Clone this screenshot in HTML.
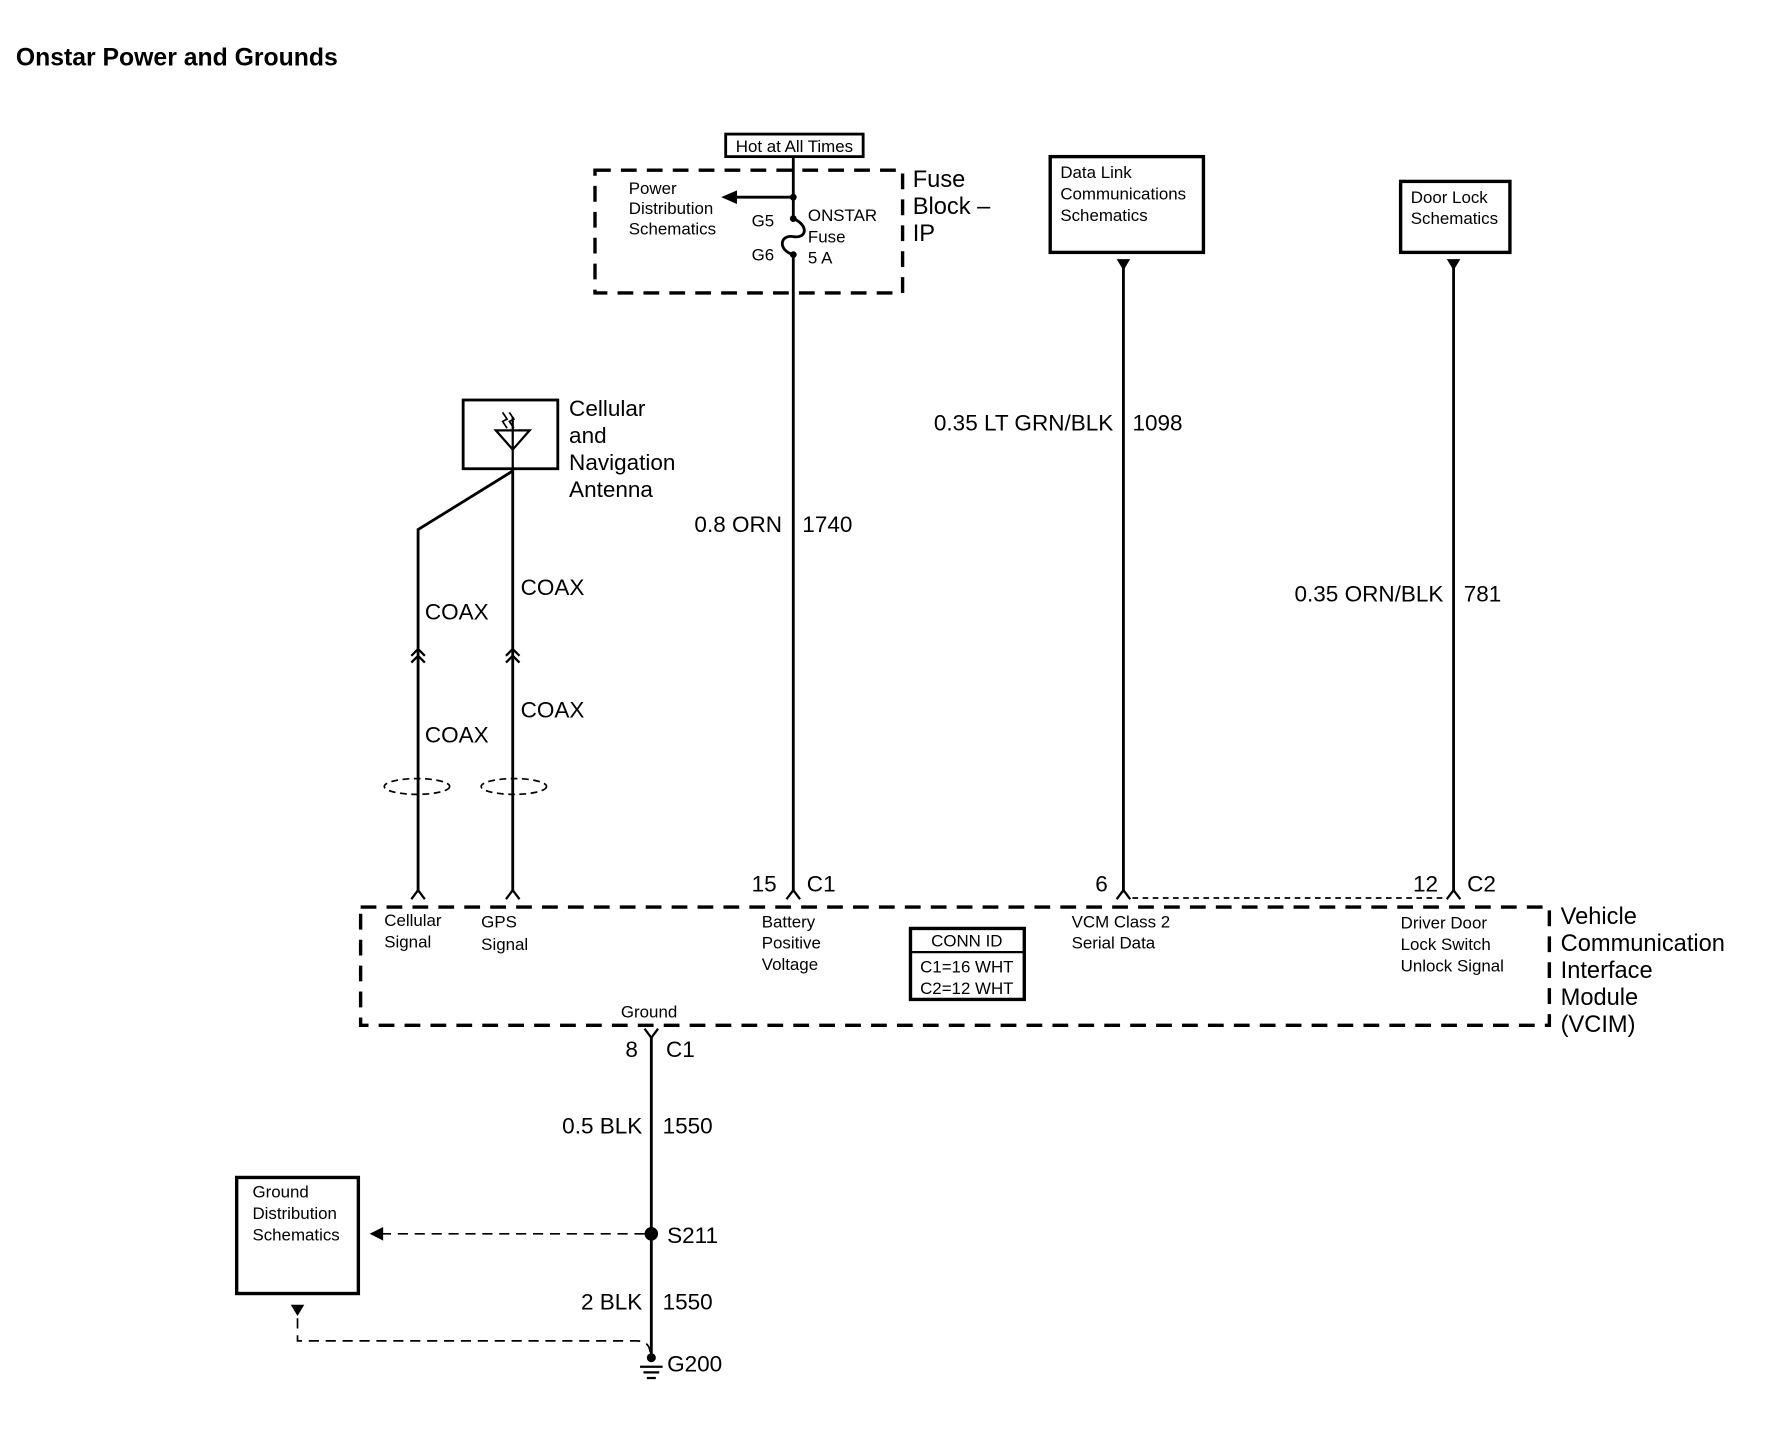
<!DOCTYPE html>
<html><head><meta charset="utf-8"><style>html,body{margin:0;padding:0;background:#fff}svg{display:block}text{font-family:"Liberation Sans",sans-serif;fill:#000}</style></head><body>
<svg width="1768" height="1440" viewBox="0 0 1569 1278" xmlns="http://www.w3.org/2000/svg">
<text x="14" y="58" font-size="22" font-weight="bold">Onstar Power and Grounds</text>

<!-- Fuse block -->
<rect x="644" y="119" width="122" height="20" fill="#fff" stroke="#000" stroke-width="2.5"/>
<text x="705" y="135" font-size="15" text-anchor="middle">Hot at All Times</text>
<rect x="528" y="151" width="273" height="109" fill="none" stroke="#000" stroke-width="3" stroke-dasharray="14,9"/>
<line x1="704" y1="139" x2="704" y2="194" stroke="#000" stroke-width="2.5"/>
<line x1="704" y1="226" x2="704" y2="792" stroke="#000" stroke-width="2.5"/>
<path d="M704 194 C718 200,716 212,704 210 C692 208,690 222,704 226" fill="none" stroke="#000" stroke-width="2.5"/>
<circle cx="704" cy="175" r="3" /><circle cx="704" cy="194" r="3"/><circle cx="704" cy="226" r="3"/>
<line x1="650" y1="175" x2="704" y2="175" stroke="#000" stroke-width="2.5"/>
<polygon points="640,175 654,169 654,181"/>
<text font-size="15"><tspan x="558" y="172">Power</tspan><tspan x="558" y="190">Distribution</tspan><tspan x="558" y="208">Schematics</tspan></text>
<text x="667" y="201" font-size="15">G5</text><text x="667" y="231" font-size="15">G6</text>
<text font-size="15"><tspan x="717" y="196">ONSTAR</tspan><tspan x="717" y="215">Fuse</tspan><tspan x="717" y="234">5 A</tspan></text>
<text font-size="21"><tspan x="810" y="166">Fuse</tspan><tspan x="810" y="190">Block –</tspan><tspan x="810" y="214">IP</tspan></text>
<text x="694" y="472" font-size="20" text-anchor="end">0.8 ORN</text><text x="712" y="472" font-size="20">1740</text>

<!-- Data link -->
<rect x="932" y="139" width="136" height="85" fill="none" stroke="#000" stroke-width="3"/>
<text font-size="15"><tspan x="941" y="158">Data Link</tspan><tspan x="941" y="177">Communications</tspan><tspan x="941" y="196">Schematics</tspan></text>
<polygon points="991,230 1003,230 997,240"/>
<line x1="997" y1="232" x2="997" y2="792" stroke="#000" stroke-width="2.5"/>
<text x="988" y="382" font-size="20" text-anchor="end">0.35 LT GRN/BLK</text><text x="1005" y="382" font-size="20">1098</text>

<!-- Door lock -->
<rect x="1243" y="161" width="97" height="63" fill="none" stroke="#000" stroke-width="3"/>
<text font-size="15"><tspan x="1252" y="180">Door Lock</tspan><tspan x="1252" y="199">Schematics</tspan></text>
<polygon points="1284,230 1296,230 1290,240"/>
<line x1="1290" y1="232" x2="1290" y2="792" stroke="#000" stroke-width="2.5"/>
<text x="1281" y="534" font-size="20" text-anchor="end">0.35 ORN/BLK</text><text x="1299" y="534" font-size="20">781</text>

<!-- Antenna -->
<rect x="411" y="355" width="84" height="61" fill="none" stroke="#000" stroke-width="2.5"/>
<polygon points="440,382 470,382 455,399" fill="none" stroke="#000" stroke-width="2"/>
<line x1="455" y1="370" x2="455" y2="416" stroke="#000" stroke-width="2"/>
<path d="M446 366 L450 372 L446 374 L450 380 M452 366 L456 372 L452 374 L456 380" fill="none" stroke="#000" stroke-width="1.5"/>
<text font-size="20"><tspan x="505" y="369">Cellular</tspan><tspan x="505" y="393">and</tspan><tspan x="505" y="417">Navigation</tspan><tspan x="505" y="441">Antenna</tspan></text>
<line x1="455" y1="416" x2="455" y2="792" stroke="#000" stroke-width="2.5"/>
<polyline points="455,418 371,470 371,792" fill="none" stroke="#000" stroke-width="2.5"/>
<path d="M365 582 L371 576 L377 582 M365 588 L371 582 L377 588 M449 582 L455 576 L461 582 M449 588 L455 582 L461 588" fill="none" stroke="#000" stroke-width="2"/>
<text font-size="20"><tspan x="377" y="550">COAX</tspan><tspan x="462" y="528">COAX</tspan><tspan x="377" y="659">COAX</tspan><tspan x="462" y="637">COAX</tspan></text>
<ellipse cx="370" cy="698" rx="29" ry="7" fill="none" stroke="#000" stroke-width="1.5" stroke-dasharray="6,4"/>
<ellipse cx="456" cy="698" rx="29" ry="7" fill="none" stroke="#000" stroke-width="1.5" stroke-dasharray="6,4"/>

<!-- connectors top -->
<g fill="none" stroke="#000" stroke-width="2">
<path d="M365 798 L371 790 L377 798"/><path d="M449 798 L455 790 L461 798"/>
<path d="M698 798 L704 790 L710 798"/><path d="M991 798 L997 790 L1003 798"/><path d="M1284 798 L1290 790 L1296 798"/>
</g>
<line x1="1005" y1="797" x2="1283" y2="797" stroke="#000" stroke-width="1.5" stroke-dasharray="5,4"/>
<text font-size="20"><tspan x="667" y="791">15</tspan><tspan x="716" y="791">C1</tspan><tspan x="972" y="791">6</tspan><tspan x="1254" y="791">12</tspan><tspan x="1302" y="791">C2</tspan></text>

<!-- VCIM -->
<rect x="320" y="805" width="1055" height="105" fill="none" stroke="#000" stroke-width="3" stroke-dasharray="14,9"/>
<text font-size="15"><tspan x="341" y="822">Cellular</tspan><tspan x="341" y="841">Signal</tspan>
<tspan x="427" y="823">GPS</tspan><tspan x="427" y="843">Signal</tspan>
<tspan x="676" y="823">Battery</tspan><tspan x="676" y="842">Positive</tspan><tspan x="676" y="861">Voltage</tspan>
<tspan x="951" y="823">VCM Class 2</tspan><tspan x="951" y="842">Serial Data</tspan>
<tspan x="1243" y="824">Driver Door</tspan><tspan x="1243" y="843">Lock Switch</tspan><tspan x="1243" y="862">Unlock Signal</tspan>
<tspan x="551" y="903">Ground</tspan></text>
<rect x="808" y="824" width="101" height="63" fill="none" stroke="#000" stroke-width="3"/>
<line x1="808" y1="845" x2="909" y2="845" stroke="#000" stroke-width="2"/>
<text font-size="15" text-anchor="middle"><tspan x="858" y="840">CONN ID</tspan><tspan x="858" y="863">C1=16 WHT</tspan><tspan x="858" y="882">C2=12 WHT</tspan></text>
<text font-size="21"><tspan x="1385" y="820">Vehicle</tspan><tspan x="1385" y="844">Communication</tspan><tspan x="1385" y="868">Interface</tspan><tspan x="1385" y="892">Module</tspan><tspan x="1385" y="916">(VCIM)</tspan></text>

<!-- Ground wire -->
<path d="M572 913 L578 921 L584 913" fill="none" stroke="#000" stroke-width="2"/>
<line x1="578" y1="920" x2="578" y2="1205" stroke="#000" stroke-width="2.5"/>
<text font-size="20"><tspan x="555" y="938">8</tspan><tspan x="591" y="938">C1</tspan></text>
<text x="570" y="1006" font-size="20" text-anchor="end">0.5 BLK</text><text x="588" y="1006" font-size="20">1550</text>
<circle cx="578" cy="1095" r="6"/>
<text x="592" y="1103" font-size="20">S211</text>
<line x1="338" y1="1095" x2="572" y2="1095" stroke="#000" stroke-width="1.5" stroke-dasharray="9,6"/>
<polygon points="328,1095 340,1089 340,1101"/>
<text x="570" y="1162" font-size="20" text-anchor="end">2 BLK</text><text x="588" y="1162" font-size="20">1550</text>
<rect x="210" y="1045" width="108" height="103" fill="none" stroke="#000" stroke-width="3"/>
<text font-size="15"><tspan x="224" y="1063">Ground</tspan><tspan x="224" y="1082">Distribution</tspan><tspan x="224" y="1101">Schematics</tspan></text>
<polygon points="258,1158 270,1158 264,1168"/>
<path d="M264 1170 L264 1190 L565 1190 Q576 1190 577 1200" fill="none" stroke="#000" stroke-width="1.5" stroke-dasharray="9,6"/>
<circle cx="578" cy="1205" r="4"/>
<g stroke="#000" stroke-width="2"><line x1="568" y1="1213" x2="588" y2="1213"/><line x1="571" y1="1218" x2="585" y2="1218"/><line x1="574" y1="1223" x2="582" y2="1223"/></g>
<text x="592" y="1217" font-size="20">G200</text>
</svg>
</body></html>
